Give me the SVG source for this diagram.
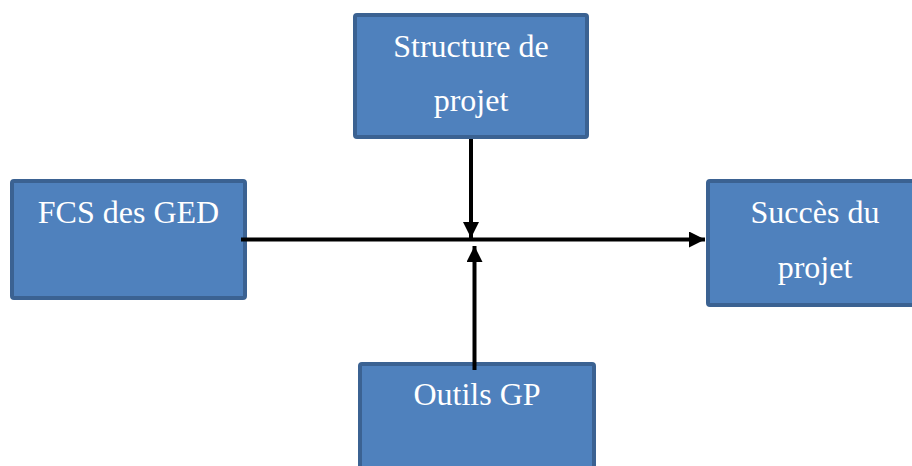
<svg xmlns="http://www.w3.org/2000/svg" width="912" height="466" viewBox="0 0 912 466">
<style>
.box{fill:#4F81BD;stroke:#3B6292;stroke-width:4}
.t{font-family:"Liberation Serif","Times New Roman",serif;font-size:32px;fill:#FFFFFF;text-anchor:middle}
.c{stroke:#000;stroke-width:4;fill:none}
</style>
<defs>
<marker id="ah" viewBox="0 0 10 10" refX="10" refY="5" markerWidth="4" markerHeight="4" markerUnits="strokeWidth" orient="auto">
<path d="M0,0 L10,5 L0,10 Z" fill="#000"/>
</marker>
</defs>
<rect width="912" height="466" fill="#fff"/>
<g id="n-structure">
<rect class="box" x="355" y="15" width="232" height="122" rx="2"/>
<text class="t" x="471" y="57">Structure de</text>
<text class="t" x="471" y="111">projet</text>
</g>
<g id="n-fcs">
<rect class="box" x="12" y="181" width="233" height="117" rx="2"/>
<text class="t" x="128.5" y="223">FCS des GED</text>
</g>
<g id="n-succes">
<rect class="box" x="708" y="181" width="220" height="124" rx="2"/>
<text class="t" x="815" y="223">Succès du</text>
<text class="t" x="815" y="278">projet</text>
</g>
<g id="n-outils">
<rect class="box" x="360" y="364" width="234" height="120" rx="2"/>
<text class="t" x="477" y="405">Outils GP</text>
</g>
<g id="connectors">
<line class="c" x1="241" y1="239.5" x2="705" y2="239.5" marker-end="url(#ah)"/>
<line class="c" x1="471" y1="139" x2="471" y2="238" marker-end="url(#ah)"/>
<line class="c" x1="474.5" y1="370" x2="474.5" y2="246" marker-end="url(#ah)"/>
</g>
</svg>
